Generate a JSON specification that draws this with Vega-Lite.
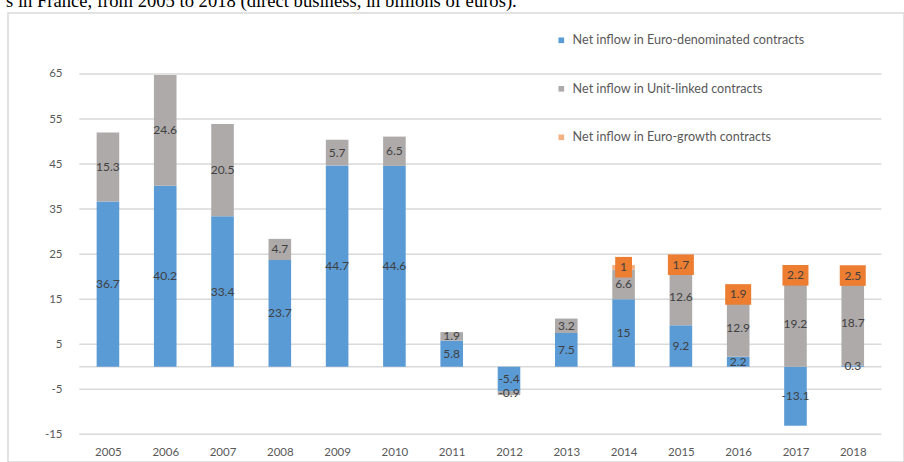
{
  "$schema": "https://vega.github.io/schema/vega-lite/v6.json",
  "autosize": {"type": "none"},
  "padding": {"left": 8, "top": 13, "right": 0, "bottom": 0},
  "width": 896,
  "height": 449,
  "background": "white",
  "config": {
    "view": {"stroke": "#d9d9d9", "strokeWidth": 1.5},
    "font": "Lato"
  },
  "title": {
    "text": "s in France, from 2005 to 2018 (direct business, in billions of euros).",
    "anchor": "start",
    "frame": "group",
    "orient": "top",
    "offset": 6,
    "dx": -2,
    "dy": 19,
    "baseline": "alphabetic",
    "font": "Liberation Serif",
    "fontSize": 18.6,
    "fontWeight": "normal",
    "color": "#000000"
  },
  "datasets": {
    "flows": [
      {"year": 2005, "series": "Net inflow in Euro-denominated contracts", "value": 36.7},
      {"year": 2005, "series": "Net inflow in Unit-linked contracts", "value": 15.3},
      {"year": 2006, "series": "Net inflow in Euro-denominated contracts", "value": 40.2},
      {"year": 2006, "series": "Net inflow in Unit-linked contracts", "value": 24.6},
      {"year": 2007, "series": "Net inflow in Euro-denominated contracts", "value": 33.4},
      {"year": 2007, "series": "Net inflow in Unit-linked contracts", "value": 20.5},
      {"year": 2008, "series": "Net inflow in Euro-denominated contracts", "value": 23.7},
      {"year": 2008, "series": "Net inflow in Unit-linked contracts", "value": 4.7},
      {"year": 2009, "series": "Net inflow in Euro-denominated contracts", "value": 44.7},
      {"year": 2009, "series": "Net inflow in Unit-linked contracts", "value": 5.7},
      {"year": 2010, "series": "Net inflow in Euro-denominated contracts", "value": 44.6},
      {"year": 2010, "series": "Net inflow in Unit-linked contracts", "value": 6.5},
      {"year": 2011, "series": "Net inflow in Euro-denominated contracts", "value": 5.8},
      {"year": 2011, "series": "Net inflow in Unit-linked contracts", "value": 1.9},
      {"year": 2012, "series": "Net inflow in Euro-denominated contracts", "value": -5.4},
      {"year": 2012, "series": "Net inflow in Unit-linked contracts", "value": -0.9},
      {"year": 2013, "series": "Net inflow in Euro-denominated contracts", "value": 7.5},
      {"year": 2013, "series": "Net inflow in Unit-linked contracts", "value": 3.2},
      {"year": 2014, "series": "Net inflow in Euro-denominated contracts", "value": 15},
      {"year": 2014, "series": "Net inflow in Unit-linked contracts", "value": 6.6},
      {"year": 2014, "series": "Net inflow in Euro-growth contracts", "value": 1},
      {"year": 2015, "series": "Net inflow in Euro-denominated contracts", "value": 9.2},
      {"year": 2015, "series": "Net inflow in Unit-linked contracts", "value": 12.6},
      {"year": 2015, "series": "Net inflow in Euro-growth contracts", "value": 1.7},
      {"year": 2016, "series": "Net inflow in Euro-denominated contracts", "value": 2.2},
      {"year": 2016, "series": "Net inflow in Unit-linked contracts", "value": 12.9},
      {"year": 2016, "series": "Net inflow in Euro-growth contracts", "value": 1.9},
      {"year": 2017, "series": "Net inflow in Euro-denominated contracts", "value": -13.1},
      {"year": 2017, "series": "Net inflow in Unit-linked contracts", "value": 19.2},
      {"year": 2017, "series": "Net inflow in Euro-growth contracts", "value": 2.2},
      {"year": 2018, "series": "Net inflow in Euro-denominated contracts", "value": 0.3},
      {"year": 2018, "series": "Net inflow in Unit-linked contracts", "value": 18.7},
      {"year": 2018, "series": "Net inflow in Euro-growth contracts", "value": 2.5}
    ],
    "grid": [
      {"level": -15}, {"level": -5}, {"level": 0}, {"level": 5}, {"level": 15},
      {"level": 25}, {"level": 35}, {"level": 45}, {"level": 55}, {"level": 65}
    ]
  },
  "layer": [
    {
      "data": {"name": "grid"},
      "mark": {"type": "rule", "color": "#d9d9d9", "strokeWidth": 1.5},
      "encoding": {
        "y": {"field": "level", "type": "quantitative", "scale": {"domain": [-21.15, 78.54], "nice": false, "zero": false},
          "axis": {"values": [-15, -5, 5, 15, 25, 35, 45, 55, 65], "labelExpr": "datum.value + ''", "grid": false, "domain": false, "ticks": false, "labelPadding": 0, "offset": -54, "labelFont": "Lato", "labelFontSize": 11.5, "labelColor": "#595959", "labelAlign": "right", "labelBaseline": "middle", "title": null}},
        "x": {"datum": 2004.5, "type": "quantitative", "scale": {"domain": [2003.343, 2018.807], "nice": false, "zero": false},
          "axis": {"values": [2005, 2006, 2007, 2008, 2009, 2010, 2011, 2012, 2013, 2014, 2015, 2016, 2017, 2018], "format": "d", "grid": false, "domain": false, "ticks": false, "labelPadding": 0, "offset": -16, "labelFont": "Lato", "labelFontSize": 11.5, "labelColor": "#595959", "labelBaseline": "top", "labelFlush": false, "labelOverlap": false, "title": null}},
        "x2": {"datum": 2018.5}
      }
    },
    {
      "data": {"name": "flows"},
      "transform": [
        {"calculate": "indexof(['Net inflow in Euro-denominated contracts','Net inflow in Unit-linked contracts','Net inflow in Euro-growth contracts'], datum.series)", "as": "ord"},
        {"stack": "value", "groupby": ["year"], "sort": [{"field": "ord", "order": "ascending"}], "as": ["v0", "v1"]},
        {"calculate": "(datum.v0 + datum.v1) / 2", "as": "mid"}
      ],
      "layer": [
        {
          "mark": {"type": "bar", "width": 22.6},
          "encoding": {
            "x": {"field": "year", "type": "quantitative"},
            "y": {"field": "v0", "type": "quantitative"},
            "y2": {"field": "v1"},
            "color": {"field": "series", "type": "nominal",
              "scale": {"domain": ["Net inflow in Euro-denominated contracts", "Net inflow in Unit-linked contracts", "Net inflow in Euro-growth contracts"], "range": ["#5b9bd5", "#aeaaaa", "#f4b183"]},
              "legend": {"title": null, "orient": "none", "legendX": 547, "legendY": 21, "direction": "vertical", "symbolType": "square", "symbolSize": 32, "symbolStrokeWidth": 0, "labelFont": "Lato", "labelFontSize": 12.6, "labelColor": "#595959", "labelOffset": 5, "rowPadding": 35.5, "padding": 0, "labelLimit": 400}}
          }
        },
        {
          "transform": [{"filter": "datum.ord < 2"}],
          "mark": {"type": "text", "font": "Lato", "fontSize": 12, "color": "#404040", "baseline": "middle", "align": "center"},
          "encoding": {
            "x": {"field": "year", "type": "quantitative"},
            "y": {"field": "mid", "type": "quantitative"},
            "text": {"field": "value", "type": "nominal"}
          }
        },
        {
          "transform": [{"filter": "datum.ord == 2 && length(datum.value + '') > 1"}],
          "mark": {"type": "point", "filled": true, "opacity": 1, "color": "#ed7d31", "shape": "M-1.3,-1.03H1.3V1.03H-1.3Z", "size": 400},
          "encoding": {
            "x": {"field": "year", "type": "quantitative"},
            "y": {"field": "mid", "type": "quantitative"}
          }
        },
        {
          "transform": [{"filter": "datum.ord == 2 && length(datum.value + '') <= 1"}],
          "mark": {"type": "point", "filled": true, "opacity": 1, "color": "#ed7d31", "shape": "M-0.84,-1.03H0.84V1.03H-0.84Z", "size": 400},
          "encoding": {
            "x": {"field": "year", "type": "quantitative"},
            "y": {"field": "mid", "type": "quantitative"}
          }
        },
        {
          "transform": [{"filter": "datum.ord == 2"}],
          "mark": {"type": "text", "font": "Lato", "fontSize": 12, "color": "#404040", "baseline": "middle", "align": "center"},
          "encoding": {
            "x": {"field": "year", "type": "quantitative"},
            "y": {"field": "mid", "type": "quantitative"},
            "text": {"field": "value", "type": "nominal"}
          }
        }
      ]
    }
  ]
}
